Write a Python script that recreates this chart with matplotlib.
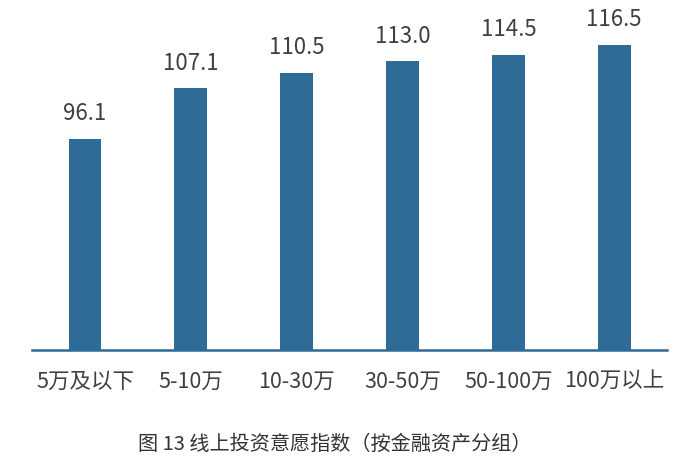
import matplotlib
matplotlib.use("Agg")
import matplotlib.pyplot as plt

plt.rcParams['font.family'] = ['Noto Sans CJK SC', 'DejaVu Sans']

categories = ['5万及以下', '5-10万', '10-30万', '30-50万', '50-100万', '100万以上']
values = [96.1, 107.1, 110.5, 113.0, 114.5, 116.5]
value_labels = ['96.1', '107.1', '110.5', '113.0', '114.5', '116.5']
caption = '图 13 线上投资意愿指数（按金融资产分组）'

bar_color = '#2F6B97'
text_color = '#404040'

fig = plt.figure(figsize=(7, 4.65), dpi=100)
ax = fig.add_axes([0.0457, 0.2473, 0.9073, 0.729])

x = list(range(len(categories)))
ax.bar(x, [v - 50 for v in values], bottom=50, width=0.31, color=bar_color, zorder=2)
ax.set_xlim(-0.5, len(categories) - 0.5)
ax.set_ylim(50, 124)

for xi, v, lab in zip(x, values, value_labels):
    ax.annotate(lab, (xi, v), xytext=(0, 10), textcoords='offset points',
                ha='center', va='bottom', fontsize=16, color=text_color)

for s in ['top', 'right', 'left']:
    ax.spines[s].set_visible(False)
ax.spines['bottom'].set_color(bar_color)
ax.spines['bottom'].set_linewidth(1.8)
ax.set_yticks([])
ax.set_xticks(x)
ax.set_xticklabels(categories, fontsize=15.5, color=text_color)
ax.tick_params(axis='x', length=0, pad=15)

fig.text(0.478, 0.045, caption, ha='center', va='center', fontsize=14.5, color='#333333')

fig.savefig('out.png', dpi=100)
